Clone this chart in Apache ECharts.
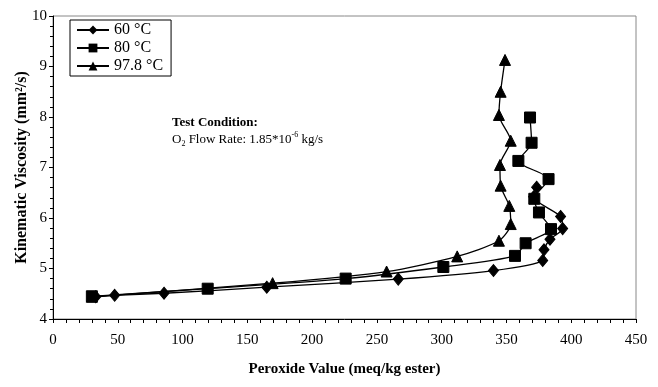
<!DOCTYPE html>
<html>
<head>
<meta charset="utf-8">
<script src="https://cdn.jsdelivr.net/npm/echarts@6/dist/echarts.min.js"></script>
<style>
  html, body { margin: 0; padding: 0; background: #fff; }
  #chart { width: 658px; height: 387px; }
</style>
</head>
<body>
<div id="chart"></div>
<script>
// Peroxide value (x) and kinematic viscosity (y) for each oxidation temperature
const seriesNames = ['60 \u00B0C', '80 \u00B0C', '97.8 \u00B0C'];

const pv60  = [33, 47.6, 85.7, 165, 266.5, 340, 378, 379, 383.6, 393.4, 391.8, 371, 373.3];
const kv60  = [4.44, 4.47, 4.51, 4.63, 4.79, 4.96, 5.16, 5.37, 5.58, 5.79, 6.03, 6.42, 6.61];

const pv80  = [30, 119.4, 225.9, 301.3, 356.6, 364.8, 384.4, 375.1, 371.5, 382.5, 359.2, 369.4, 368.2];
const kv80  = [4.45, 4.60, 4.80, 5.03, 5.25, 5.50, 5.78, 6.11, 6.38, 6.77, 7.13, 7.49, 7.99];

const pv978 = [30, 169.5, 257.5, 312, 344.2, 353.3, 352.2, 345.5, 345, 353.3, 344.2, 345.5, 348.9];
const kv978 = [4.44, 4.71, 4.94, 5.24, 5.55, 5.88, 6.24, 6.64, 7.05, 7.53, 8.04, 8.50, 9.13];

const xTicks = { min: 0, max: 450, interval: 50 };
const yTicks = { min: 4, max: 10, interval: 1 };

function pairs(xs, ys) { return xs.map((x, i) => [x, ys[i]]); }

const serif = '"Liberation Serif", "DejaVu Serif", serif';

function lineSeries(name, xs, ys, symbol, size) {
  return {
    name: name,
    type: 'line',
    data: pairs(xs, ys),
    smooth: 0.25,
    symbol: symbol,
    symbolSize: size,
    showAllSymbol: true,
    lineStyle: { color: '#000', width: 1.3 },
    itemStyle: { color: '#000', borderColor: '#000' },
    emphasis: { disabled: true },
    z: 3
  };
}

const chart = echarts.init(document.getElementById('chart'), null, { renderer: 'canvas' });

chart.setOption({
  animation: false,
  backgroundColor: '#fff',
  grid: { left: 53, right: 22, top: 16, bottom: 68, show: true,
          containLabel: false, outerBoundsMode: 'none',
          borderColor: '#888', borderWidth: 1, backgroundColor: 'transparent' },
  legend: {
    orient: 'vertical',
    left: 70, top: 20,
    padding: [2, 8, 2, 6],
    itemGap: 2,
    itemWidth: 32, itemHeight: 11,
    borderColor: '#000', borderWidth: 1,
    backgroundColor: '#fff',
    textStyle: { fontFamily: serif, fontSize: 16, color: '#000' },
    data: seriesNames
  },
  xAxis: {
    type: 'value',
    min: xTicks.min, max: xTicks.max, interval: xTicks.interval,
    name: 'Peroxide Value (meq/kg ester)',
    nameLocation: 'middle', nameGap: 43,
    nameTextStyle: { fontFamily: serif, fontSize: 15, fontWeight: 'bold', color: '#000' },
    axisLine: { lineStyle: { color: '#000', width: 1 } },
    axisTick: { show: true, length: 4, lineStyle: { color: '#000' } },
    minorTick: { show: true, splitNumber: 5, length: 4, lineStyle: { color: '#000' } },
    axisLabel: { fontFamily: serif, fontSize: 15, color: '#000', margin: 14 },
    splitLine: { show: false }
  },
  yAxis: {
    type: 'value',
    min: yTicks.min, max: yTicks.max, interval: yTicks.interval,
    name: 'Kinematic Viscosity (mm\u00B2/s)',
    nameLocation: 'middle', nameGap: 23, nameRotate: 90,
    nameMoveOverlap: false,
    nameTextStyle: { fontFamily: serif, fontSize: 16, fontWeight: 'bold', color: '#000' },
    axisLine: { lineStyle: { color: '#000', width: 1 } },
    axisTick: { show: true, length: 4, lineStyle: { color: '#000' } },
    minorTick: { show: true, splitNumber: 5, length: 3, lineStyle: { color: '#000' } },
    axisLabel: { fontFamily: serif, fontSize: 15, color: '#000', margin: 6 },
    splitLine: { show: false }
  },
  graphic: [
    {
      type: 'text', left: 172, top: 116,
      style: {
        text: '{b|Test Condition:}\n{n|O}{sub|2}{n| Flow Rate: 1.85*10}{sup|-6}{n| kg/s}',
        fontFamily: serif, fill: '#000',
        rich: {
          b: { fontFamily: serif, fontSize: 13, fontWeight: 'bold', lineHeight: 17 },
          n: { fontFamily: serif, fontSize: 13, lineHeight: 17 },
          sub: { fontFamily: serif, fontSize: 8, verticalAlign: 'bottom', padding: [6, 0, 0, 0] },
          sup: { fontFamily: serif, fontSize: 8, verticalAlign: 'top', padding: [0, 0, 6, 0] }
        }
      }
    }
  ],
  series: [
    lineSeries(seriesNames[0], pv60, kv60, 'diamond', [10, 12]),
    lineSeries(seriesNames[1], pv80, kv80, 'rect', 11),
    lineSeries(seriesNames[2], pv978, kv978, 'triangle', 11)
  ]
});
</script>
</body>
</html>
